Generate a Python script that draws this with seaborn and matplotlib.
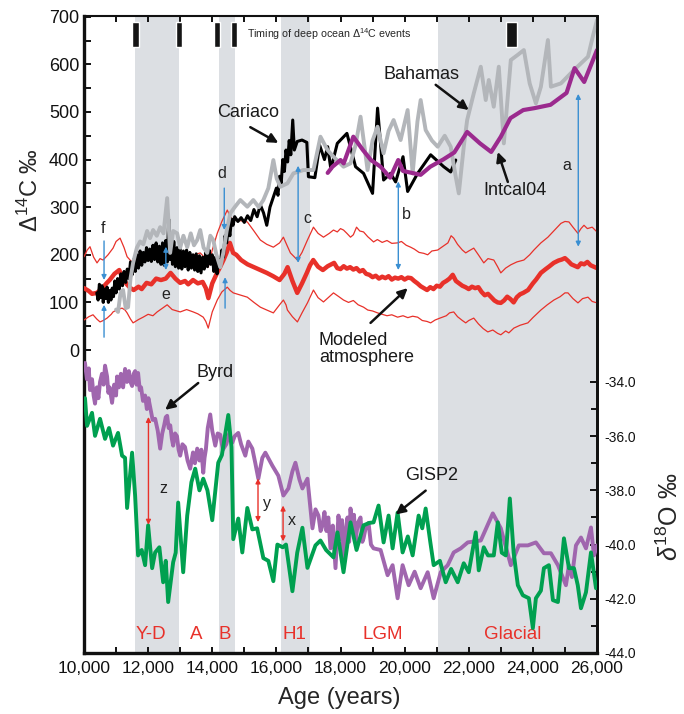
import matplotlib
matplotlib.use('Agg')
import matplotlib.pyplot as plt
import seaborn as sns

sns.set_style('ticks')
plt.rcParams['font.family'] = ['Liberation Sans', 'DejaVu Sans']
plt.rcParams['mathtext.fontset'] = 'custom'
plt.rcParams['mathtext.rm'] = 'Liberation Sans'
plt.rcParams['mathtext.it'] = 'Liberation Sans:italic'
plt.rcParams['axes.unicode_minus'] = False

# ---------------- data ----------------
band_start = [11600, 14200, 16150, 21050]
band_end = [12950, 14700, 17050, 26000]

event_start = [11500, 12870, 14050, 14590, 23150]
event_end = [11700, 13060, 14250, 14770, 23490]

cariaco_x = [10400, 10440, 10480, 10520, 10560, 10600, 10640, 10680, 10720, 10760, 10800, 10840,
             10880, 10920, 10960, 11000, 11050, 11100, 11150, 11200, 11250, 11300, 11350, 11400,
             11450, 11500, 11550, 11600, 11650, 11700, 11750, 11800, 11850, 11900, 11950, 12000,
             12050, 12100, 12150, 12200, 12250, 12300, 12350, 12400, 12450, 12500, 12550, 12600,
             12640, 12680, 12720, 12760, 12800, 12850, 12900, 12950, 13000, 13050, 13100, 13150,
             13200, 13250, 13300, 13350, 13400, 13450, 13500, 13550, 13600, 13650, 13700, 13750,
             13800, 13850, 13900, 13950, 14000, 14050, 14100, 14150, 14200, 14250, 14300, 14350,
             14400, 14450, 14500, 14550, 14600, 14650, 14700, 14800, 14900, 15000, 15100, 15200,
             15300, 15400, 15500, 15600, 15700, 15800, 15900, 16000, 16050, 16100, 16150, 16200,
             16250, 16300, 16350, 16400, 16450, 16510, 16560, 16650, 16800, 16950, 17000, 17200,
             17350, 17500, 17600, 17700, 17900, 18000, 18200, 18469, 18719, 19000, 19156, 19344,
             19562, 19719, 19950, 20094, 20406, 20812, 21219, 21437, 21594]
cariaco_y = [120, 105, 138, 110, 135, 100, 128, 108, 132, 100, 125, 105,
             130, 112, 145, 120, 150, 128, 160, 135, 165, 142, 170, 150,
             185, 158, 190, 165, 200, 172, 208, 178, 205, 185, 215, 188,
             212, 186, 220, 190, 225, 185, 218, 180, 225, 178, 230, 185,
             275, 190, 235, 180, 228, 175, 215, 172, 212, 170, 208, 175,
             210, 168, 205, 172, 200, 168, 202, 165, 198, 162, 195, 170,
             205, 175, 210, 180, 200, 165, 195, 160, 190, 175, 210, 195,
             240, 225, 262, 240, 275, 262, 280, 270, 278, 268, 282, 272,
             295, 280, 305, 288, 262, 300, 320, 340, 325, 365, 350, 400,
             375, 420, 395, 440, 410, 483, 420, 438, 441, 436, 364, 362,
             430, 400, 427, 380, 434, 441, 455, 385, 371, 329, 508, 357,
             371, 353, 406, 333, 371, 410, 385, 374, 399]

bahamas_x = [11000, 11062, 11140, 11219, 11300, 11375, 11450, 11531, 11650, 11750, 11850, 11969,
             12060, 12156, 12270, 12375, 12480, 12594, 12687, 12780, 12906, 13000, 13100, 13219,
             13330, 13430, 13531, 13625, 13730, 13844, 13940, 14031, 14130, 14250, 14344, 14450,
             14562, 14700, 14875, 15094, 15281, 15450, 15594, 15750, 15906, 16010, 16125, 16344,
             16531, 16844, 17156, 17375, 17594, 17781, 18094, 18312, 18470, 18625, 18844, 19000,
             19156, 19344, 19500, 19656, 19875, 20094, 20250, 20400, 20500, 20656, 20850, 21031,
             21250, 21437, 21594, 21690, 21844, 21950, 22156, 22375, 22530, 22625, 22780, 22937,
             23094, 23312, 23531, 23719, 23900, 24094, 24250, 24469, 24562, 24875, 25281, 25719,
             25875, 26000]
bahamas_y = [85, 80, 120, 126, 88, 90, 150, 183, 215, 228, 222, 250,
             235, 252, 240, 258, 245, 319, 204, 250, 245, 215, 240, 216,
             245, 220, 231, 252, 215, 204, 240, 231, 200, 174, 204, 250,
             287, 300, 315, 301, 315, 300, 315, 340, 399, 360, 343, 350,
             371, 378, 378, 448, 420, 406, 385, 392, 430, 490, 378, 440,
             469, 413, 460, 483, 441, 504, 371, 480, 525, 462, 440, 427,
             450, 427, 364, 329, 427, 483, 539, 595, 525, 567, 511, 595,
             434, 609, 620, 630, 560, 518, 553, 651, 553, 560, 588, 616,
             660, 693]

intcal_x = [17600, 17750, 18000, 18100, 18400, 18700, 18950, 19250, 19550, 19800, 19950, 20500,
            20800, 21200, 21550, 21950, 22350, 22700, 23000, 23300, 23700, 24050, 24550, 25050,
            25300, 25600, 26000]
intcal_y = [372, 385, 399, 392, 448, 420, 399, 385, 362, 399, 376, 368,
            385, 400, 415, 458, 434, 416, 448, 487, 504, 508, 515, 540,
            592, 563, 630]

model_x = [10000, 10150, 10250, 10400, 10550, 10700, 10800, 10950, 11100, 11200, 11350, 11450,
           11550, 11700, 11800, 11950, 12100, 12250, 12400, 12550, 12700, 12850, 13000, 13150,
           13250, 13400, 13550, 13700, 13800, 13880, 14000, 14150, 14250, 14350, 14450, 14550,
           14650, 14750, 14900, 15100, 15300, 15500, 15700, 15900, 16100, 16250, 16350, 16500,
           16650, 16800, 16950, 17050, 17150, 17300, 17450, 17600, 17800, 17900, 18000, 18100,
           18200, 18300, 18400, 18500, 18600, 18700, 18800, 18900, 19000, 19100, 19200, 19300,
           19400, 19500, 19600, 19700, 19800, 19900, 20000, 20100, 20200, 20300, 20400, 20500,
           20600, 20700, 20800, 20900, 21000, 21100, 21200, 21300, 21400, 21500, 21600, 21700,
           21800, 21900, 22000, 22100, 22200, 22300, 22400, 22500, 22600, 22700, 22800, 22900,
           23000, 23100, 23200, 23300, 23400, 23500, 23600, 23700, 23850, 24000, 24100, 24250,
           24400, 24500, 24650, 24800, 24900, 25000, 25100, 25200, 25300, 25400, 25500, 25600,
           25700, 25800, 25900, 26000]
model_y = [130, 124, 118, 120, 128, 140, 147, 160, 168, 150, 137, 130,
           126, 133, 128, 141, 138, 150, 147, 150, 162, 150, 141, 145,
           138, 147, 140, 143, 130, 109, 140, 162, 175, 189, 205, 225,
           204, 200, 189, 180, 174, 168, 162, 155, 147, 160, 174, 145,
           120, 140, 162, 178, 189, 175, 168, 176, 183, 172, 170, 176,
           171, 174, 169, 172, 165, 168, 160, 158, 153, 156, 150, 154,
           151, 155, 148, 152, 150, 153, 148, 152, 151, 145, 140, 134,
           130, 126, 132, 128, 135, 133, 141, 145, 150, 158, 145, 140,
           135, 132, 128, 133, 130, 132, 122, 115, 118, 111, 104, 100,
           99, 104, 112, 107, 100, 111, 117, 120, 126, 140, 148, 162,
           170, 175, 183, 188, 190, 193, 187, 180, 177, 174, 182, 180,
           185, 178, 175, 172]

upper_x = [10000, 10100, 10187, 10300, 10406, 10500, 10594, 10750, 10906, 11000, 11125, 11250,
           11344, 11450, 11531, 11650, 11750, 11900, 12000, 12156, 12300, 12450, 12594, 12750,
           12900, 13000, 13150, 13300, 13450, 13625, 13750, 13875, 14000, 14156, 14300, 14469,
           14560, 14656, 14850, 15094, 15300, 15500, 15700, 15906, 16100, 16219, 16330, 16437,
           16656, 16800, 16969, 17156, 17300, 17469, 17650, 17781, 17900, 18000, 18094, 18200,
           18312, 18400, 18500, 18600, 18719, 18850, 18950, 19031, 19150, 19300, 19450, 19600,
           19781, 19900, 20050, 20187, 20300, 20450, 20600, 20719, 20850, 21031, 21200, 21350,
           21450, 21531, 21650, 21800, 21906, 22000, 22156, 22300, 22469, 22600, 22781, 22900,
           23000, 23150, 23312, 23500, 23719, 23900, 24031, 24250, 24469, 24650, 24875, 25000,
           25125, 25250, 25406, 25500, 25594, 25700, 25850, 26000]
upper_y = [196, 210, 217, 195, 183, 192, 189, 200, 214, 228, 235, 215,
           196, 188, 183, 192, 196, 205, 198, 204, 210, 200, 196, 205,
           198, 196, 203, 195, 200, 204, 195, 174, 210, 245, 270, 294,
           280, 273, 272, 269, 250, 231, 222, 216, 225, 237, 220, 204,
           189, 205, 231, 258, 245, 237, 245, 252, 248, 255, 252, 245,
           237, 242, 258, 250, 248, 238, 232, 227, 232, 226, 230, 224,
           225, 228, 220, 216, 212, 205, 203, 200, 208, 210, 218, 225,
           240, 235, 222, 210, 204, 208, 214, 200, 183, 192, 189, 175,
           162, 172, 179, 185, 189, 200, 210, 225, 237, 250, 266, 270,
           269, 258, 245, 255, 262, 255, 258, 248]

lower_x = [10000, 10150, 10281, 10400, 10500, 10600, 10719, 10850, 10906, 11050, 11187, 11280,
           11344, 11450, 11531, 11700, 11844, 12000, 12150, 12281, 12450, 12594, 12750, 12900,
           13000, 13200, 13406, 13550, 13719, 13800, 13875, 14000, 14156, 14300, 14469, 14560,
           14656, 14850, 15094, 15300, 15500, 15700, 15906, 16100, 16219, 16300, 16344, 16500,
           16656, 16800, 16969, 17156, 17300, 17469, 17650, 17781, 17950, 18094, 18250, 18400,
           18550, 18719, 18850, 19000, 19156, 19300, 19450, 19600, 19781, 19950, 20100, 20250,
           20406, 20550, 20700, 20812, 20950, 21100, 21300, 21400, 21531, 21650, 21800, 21906,
           22000, 22156, 22300, 22450, 22594, 22750, 22900, 23000, 23150, 23250, 23406, 23600,
           23844, 24000, 24250, 24450, 24656, 24850, 25000, 25094, 25250, 25406, 25550, 25719,
           25850, 26000]
lower_y = [63, 70, 74, 65, 59, 62, 67, 75, 80, 85, 88, 84,
           78, 65, 57, 64, 69, 75, 72, 80, 88, 95, 85, 82,
           80, 85, 80, 76, 69, 60, 46, 80, 105, 122, 132, 125,
           120, 116, 111, 100, 90, 84, 78, 95, 105, 95, 84, 70,
           59, 78, 99, 126, 110, 101, 112, 120, 112, 105, 100, 104,
           95, 90, 84, 82, 78, 75, 72, 74, 69, 72, 68, 71,
           69, 62, 60, 57, 63, 67, 72, 78, 80, 70, 62, 57,
           62, 67, 55, 45, 38, 42, 35, 32, 40, 36, 46, 52,
           57, 68, 84, 95, 105, 112, 120, 120, 108, 99, 108, 111,
           102, 99]

byrd_x = [10031, 10090, 10150, 10187, 10250, 10300, 10344, 10400, 10450, 10500, 10560, 10610,
          10656, 10720, 10760, 10800, 10875, 10940, 11000, 11031, 11090, 11150, 11220, 11281,
          11340, 11400, 11450, 11500, 11550, 11594, 11640, 11687, 11740, 11780, 11840, 11906,
          11960, 12010, 12060, 12140, 12219, 12300, 12375, 12440, 12500, 12550, 12594, 12640,
          12690, 12740, 12781, 12840, 12900, 12950, 13000, 13070, 13150, 13230, 13312, 13400,
          13460, 13531, 13600, 13660, 13719, 13760, 13800, 13860, 13937, 14000, 14094, 14170,
          14250, 14330, 14437, 14530, 14625, 14700, 14812, 14900, 15031, 15125, 15250, 15344,
          15437, 15562, 15656, 15875, 16062, 16219, 16375, 16500, 16594, 16719, 16812, 16969,
          17125, 17220, 17312, 17380, 17437, 17500, 17562, 17620, 17687, 17760, 17844, 17900,
          17937, 18000, 18050, 18094, 18150, 18219, 18270, 18312, 18380, 18420, 18469, 18540,
          18625, 18680, 18719, 18800, 18875, 18950, 19031, 19250, 19469, 19625, 19781, 19937,
          20125, 20312, 20500, 20719, 20906, 21125, 21344, 21531, 21750, 21969, 22375, 22750,
          23000, 23312, 23562, 23844, 24094, 24344, 24562, 24781, 25031, 25125, 25219, 25344,
          25500, 25656, 25812, 25906, 26000]
byrd_y = [-33.3, -33.9, -33.5, -34.3, -33.9, -34.5, -34.8, -34.2, -34.6, -34.0, -33.7, -34.1,
          -33.4, -33.8, -34.4, -34.2, -34.77, -34.1, -34.5, -33.8, -34.2, -33.7, -34.2, -33.52,
          -34.0, -33.6, -34.0, -34.15, -33.7, -33.6, -34.1, -33.67, -34.3, -34.2, -34.7, -34.5,
          -35.0, -34.6, -34.9, -35.4, -35.36, -35.8, -36.46, -35.9, -35.6, -35.3, -35.25, -35.7,
          -35.6, -36.1, -36.35, -35.9, -36.0, -36.5, -36.72, -36.3, -36.4, -36.9, -37.2, -36.6,
          -37.0, -36.46, -36.9, -36.5, -37.35, -36.8, -36.5, -35.7, -35.2, -35.8, -36.35, -35.9,
          -35.95, -36.5, -36.3, -35.9, -36.24, -36.0, -35.88, -36.3, -36.72, -36.2, -36.46, -37.0,
          -37.57, -36.8, -36.61, -37.09, -37.46, -38.19, -37.93, -37.3, -36.98, -37.6, -37.93, -37.57,
          -39.4, -38.7, -38.93, -39.5, -39.3, -38.8, -39.5, -39.0, -40.14, -39.3, -40.87, -39.6,
          -38.93, -39.8, -39.1, -40.76, -39.6, -39.0, -39.9, -38.67, -39.5, -38.9, -39.92, -39.2,
          -39.0, -39.9, -39.77, -39.3, -39.2, -40.0, -40.14, -40.2, -41.13, -40.76, -41.98, -40.76,
          -41.5, -41.0, -41.61, -41.02, -41.98, -41.02, -40.76, -40.29, -40.14, -39.92, -39.85, -38.85,
          -39.4, -40.76, -40.03, -40.03, -39.92, -40.32, -40.32, -40.76, -41.5, -40.76, -41.2, -40.03,
          -39.74, -40.14, -39.37, -40.4, -40.03]

gisp_x = [10031, 10094, 10250, 10344, 10500, 10656, 10780, 10906, 11062, 11187, 11280, 11344,
          11500, 11594, 11687, 11800, 11906, 12000, 12125, 12219, 12350, 12469, 12550, 12625,
          12781, 12860, 12937, 13094, 13219, 13350, 13469, 13600, 13719, 13850, 14000, 14187,
          14300, 14500, 14600, 14656, 14812, 14937, 15094, 15250, 15400, 15594, 15750, 15906,
          16031, 16200, 16300, 16500, 16650, 16812, 16969, 17219, 17375, 17550, 17781, 17906,
          18094, 18312, 18500, 18719, 18900, 19031, 19187, 19344, 19500, 19625, 19781, 19937,
          20100, 20250, 20437, 20550, 20656, 20800, 20906, 21100, 21281, 21450, 21656, 21844,
          22000, 22219, 22312, 22469, 22600, 22781, 22906, 23030, 23156, 23281, 23400, 23531,
          23687, 23875, 24000, 24094, 24250, 24344, 24500, 24625, 24781, 24969, 25125, 25281,
          25400, 25500, 25656, 25812, 25969]
gisp_y = [-34.6, -35.62, -35.14, -35.99, -35.36, -36.1, -35.7, -36.35, -35.88, -36.72, -36.8, -38.65,
          -36.61, -38.19, -40.4, -40.2, -40.76, -39.29, -40.87, -40.29, -40.1, -41.39, -40.6, -42.12,
          -40.65, -40.3, -38.45, -41.02, -38.93, -37.7, -37.2, -38.0, -37.57, -38.0, -39.1, -36.98,
          -36.7, -35.22, -36.4, -39.8, -39.04, -40.29, -38.65, -39.44, -39.4, -40.5, -40.6, -41.35,
          -40.0, -40.1, -40.0, -41.72, -40.3, -39.38, -40.86, -40.03, -39.85, -40.2, -40.47, -39.55,
          -41.02, -39.18, -40.2, -39.29, -39.2, -39.18, -38.56, -39.92, -38.93, -40.14, -38.82, -40.29,
          -39.7, -40.4, -38.93, -39.4, -38.67, -39.9, -40.76, -40.6, -41.39, -40.9, -41.39, -40.69,
          -41.02, -39.55, -40.95, -40.1, -40.4, -40.4, -39.18, -40.3, -40.4, -38.3, -40.3, -41.5,
          -41.87, -41.98, -43.08, -41.98, -41.7, -40.87, -40.76, -42.05, -42.12, -39.77, -40.87, -40.87,
          -41.5, -42.35, -41.76, -40.29, -41.61]

x_ticks = [10000, 12000, 14000, 16000, 18000, 20000, 22000, 24000, 26000]
x_tick_labels = ['10,000', '12,000', '14,000', '16,000', '18,000', '20,000', '22,000', '24,000', '26,000']
left_ticks = [0, 100, 200, 300, 400, 500, 600, 700]
right_ticks = [-44, -42, -40, -38, -36, -34]
right_tick_labels = ['-44.0', '-42.0', '-40.0', '-38.0', '-36.0', '-34.0']

period_labels = ['Y-D', 'A', 'B', 'H1', 'LGM', 'Glacial']
period_pos = [12100, 13490, 14400, 16560, 19330, 23370]

# ---------------- figure ----------------
RED = '#e8312a'
BLUE = '#3a8fd2'
fig = plt.figure(figsize=(6.84, 7.14), dpi=100)
ax = fig.add_axes([84 / 684, 61 / 714, 513 / 684, 637 / 714])
ax2 = ax.twinx()
ax.set_xlim(10000, 26000)
ax.set_ylim(-636.3, 701.5)
ax2.set_ylim(-44, -20.5)

for s, e in zip(band_start, band_end):
    ax.axvspan(s, e, color='#dcdfe3', lw=0, zorder=0)

ax.bar(event_start, 52, width=[e - s for s, e in zip(event_start, event_end)], bottom=636,
       align='edge', color='#151515', zorder=3)
ax.text(15094, 663, 'Timing of deep ocean $\\Delta^{14}$C events', fontsize=7.7, ha='left', va='center')

kw = dict(estimator=None, sort=False, legend=False)
sns.lineplot(x=upper_x, y=upper_y, ax=ax, color=RED, lw=0.9, zorder=3, **kw)
sns.lineplot(x=lower_x, y=lower_y, ax=ax, color=RED, lw=0.9, zorder=3, **kw)
sns.lineplot(x=model_x, y=model_y, ax=ax, color=RED, lw=3.2, zorder=3, **kw)
sns.lineplot(x=cariaco_x, y=cariaco_y, ax=ax, color='black', lw=2.2, zorder=4, **kw)
sns.lineplot(x=bahamas_x, y=bahamas_y, ax=ax, color='#b3b6ba', lw=2.8, zorder=5, **kw)
sns.lineplot(x=intcal_x, y=intcal_y, ax=ax, color='#9b2a8e', lw=3.0, zorder=6, **kw)

sns.lineplot(x=byrd_x, y=byrd_y, ax=ax2, color='#a066ae', lw=2.8, zorder=3, **kw)
sns.lineplot(x=gisp_x, y=gisp_y, ax=ax2, color='#00a050', lw=2.8, zorder=4, **kw)


def arr(a, x, y0, y1, style, color, ms=7, lw=1.0):
    a.annotate('', xy=(x, y1), xytext=(x, y0),
               arrowprops=dict(arrowstyle=style, color=color, lw=lw, mutation_scale=ms,
                               shrinkA=0, shrinkB=0), zorder=7)


# blue arrows (delta14C offsets)
arr(ax, 10625, 229, 147, '-|>', BLUE)
arr(ax, 10625, 27, 95, '-|>', BLUE)
arr(ax, 14375, 340, 252, '-|>', BLUE)
arr(ax, 14400, 88, 153, '-|>', BLUE)
arr(ax, 12553, 168, 217, '<|-|>', BLUE)
arr(ax, 16678, 183, 387, '<|-|>', BLUE)
arr(ax, 19803, 168, 354, '<|-|>', BLUE)
arr(ax, 25416, 217, 538, '<|-|>', BLUE)
for t, x, y in [('f', 10590, 255), ('e', 12562, 116), ('d', 14312, 370), ('c', 16969, 277),
                ('b', 20062, 284), ('a', 25062, 387)]:
    ax.text(x, y, t, fontsize=11.5, ha='center', va='center', color='#222222', zorder=8)

# red arrows (d18O offsets)
arr(ax2, 12010, -39.27, -35.29, '<|-|>', RED)
arr(ax2, 15427, -39.17, -37.56, '<|-|>', RED)
arr(ax2, 16209, -39.88, -38.56, '<|-|>', RED)
for t, x, y in [('z', 12459, -37.93), ('y', 15709, -38.49), ('x', 16469, -39.11)]:
    ax2.text(x, y, t, fontsize=11.5, ha='center', va='center', color='#222222', zorder=8)


def blk(a, txt, tx, ty, x0, y0, x1, y1, ha='center'):
    a.text(tx, ty, txt, fontsize=13, ha=ha, va='center', color='#1a1a1a', zorder=8, linespacing=1.05)
    a.annotate('', xy=(x1, y1), xytext=(x0, y0),
               arrowprops=dict(arrowstyle='-|>', color='#111111', lw=1.8, mutation_scale=14,
                               shrinkA=0, shrinkB=0), zorder=8)


blk(ax, 'Cariaco', 15125, 498, 15187, 468, 16062, 435)
blk(ax, 'Bahamas', 20531, 578, 20969, 557, 22000, 504)
blk(ax, 'Intcal04', 23437, 336, 23219, 353, 22906, 416)
blk(ax, 'Modeled\natmosphere', 17322, 2, 18937, 57, 20094, 130, ha='left')
blk(ax2, 'Byrd', 14094, -33.67, 13562, -34.04, 12531, -35.03)
blk(ax2, 'GISP2', 20844, -37.46, 20656, -38.01, 19719, -38.89)

for t, x in zip(period_labels, period_pos):
    ax.text(x, -597, t, fontsize=13.5, color=RED, ha='center', va='center', zorder=8)

# ---------------- axes styling ----------------
ax.set_xticks(x_ticks)
ax.set_xticklabels(x_tick_labels)
ax.set_xticks(list(range(11000, 26000, 2000)), minor=True)
ax.set_yticks(left_ticks)
ax.set_yticklabels([str(v) for v in left_ticks])
ax.set_yticks(list(range(50, 700, 100)), minor=True)
ax2.set_yticks(right_ticks)
ax2.set_yticklabels(right_tick_labels)
ax2.set_yticks(list(range(-43, -34, 2)), minor=True)

ax.tick_params(axis='x', which='both', direction='in', top=True, bottom=True, length=4.2,
               width=1.4, labelsize=12.5, pad=6, colors='#111111')
ax.tick_params(axis='y', which='both', direction='in', left=True, right=False, length=4.8,
               width=1.4, labelsize=13, pad=3.5, colors='#111111')
ax2.tick_params(axis='y', which='major', direction='in', right=True, left=False, length=4.8,
                width=1.4, labelsize=10, pad=5, colors='#111111')
ax2.tick_params(axis='y', which='minor', direction='in', right=True, left=False, length=4.0,
                width=1.4, colors='#111111')
ax.set_xlabel('')
ax.set_ylabel('')
ax2.set_ylabel('')

for side, w in [('left', 2.4), ('bottom', 2.4), ('top', 1.5), ('right', 2.0)]:
    ax.spines[side].set_linewidth(w)
    ax.spines[side].set_color('#111111')
for side in ['left', 'bottom', 'top']:
    ax2.spines[side].set_visible(False)
ax2.spines['right'].set_linewidth(2.0)
ax2.spines['right'].set_color('#111111')

fig.text(30 / 684, 1 - 190 / 714, '$\\Delta^{14}$C \u2030', fontsize=17, rotation=90,
         ha='center', va='center')
fig.text(670 / 684, 1 - 517 / 714, '$\\delta^{18}$O \u2030', fontsize=18, rotation=90,
         ha='center', va='center')
fig.text(339 / 684, 1 - 698 / 714, 'Age (years)', fontsize=17, ha='center', va='center')

fig.savefig('out.png', dpi=100)
